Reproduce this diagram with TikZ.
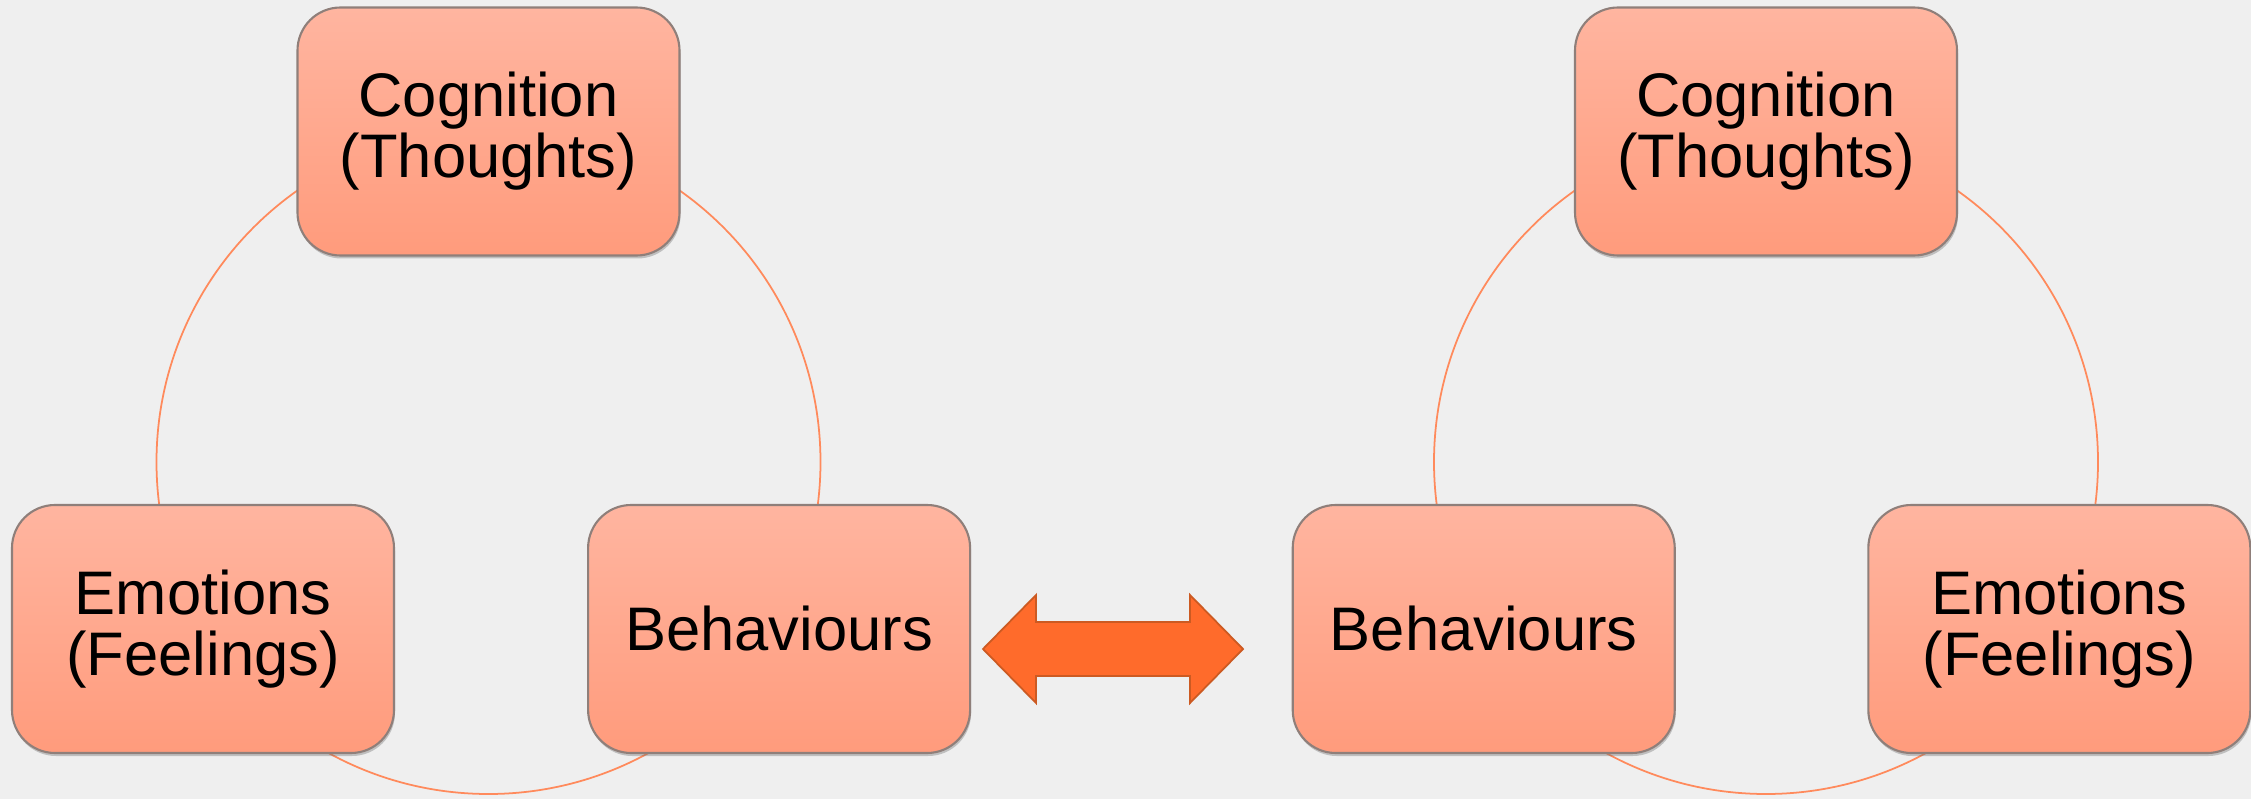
\documentclass[tikz,border=0pt]{standalone}
\usepackage{fontspec}
\setmainfont{Liberation Sans}
\usetikzlibrary{positioning, calc, shadows}

\definecolor{bg_grey}{HTML}{EFEFEF}
\definecolor{box_top}{HTML}{FFB5A0}
\definecolor{box_bottom}{HTML}{FF9B7C}
\definecolor{box_edge}{HTML}{8F7F7A}
\definecolor{cycle_col}{HTML}{FF8A5C}
\definecolor{arrow_col}{HTML}{FF6B2B}
\definecolor{arrow_edge}{HTML}{CC5A22}

\begin{document}
\begin{tikzpicture}[
    box_node/.style={rectangle, rounded corners=0.43cm, draw=box_edge, line width=0.6pt,
      top color=box_top, bottom color=box_bottom, minimum width=3.82cm, minimum height=2.48cm,
      align=center, font=\fontsize{17.5}{17.3}\selectfont,
      drop shadow={shadow xshift=0.01cm, shadow yshift=-0.03cm, opacity=0.35, fill=black!60}},
    cycle_line/.style={draw=cycle_col, line width=0.5pt},
    arrow_fill/.style={fill=arrow_col, draw=arrow_edge, line width=0.5pt, line join=miter},
    node distance=1.92cm
  ]
    \fill[bg_grey] (0,0) rectangle (22.51,7.99);
    \useasboundingbox (0,0) rectangle (22.51,7.99);

    % cycles behind the boxes
    \coordinate (ringL) at (4.885,3.37);
    \coordinate (ringR) at (17.66,3.37);
    \draw[cycle_line] (ringL) circle (3.32);
    \draw[cycle_line] (ringR) circle (3.32);

    % left cycle
    \node[box_node] (CogL) at (4.885,6.675) {Cognition\\(Thoughts)};
    \node[box_node] (EmoL) at (2.03,1.70) {Emotions\\(Feelings)};
    \node[box_node, right=of EmoL] (BehL) {Behaviours};

    % right cycle
    \node[box_node, right=3.205cm of BehL] (BehR) {Behaviours};
    \node[box_node, right=1.915cm of BehR] (EmoR) {Emotions\\(Feelings)};
    \node[box_node] (CogR) at (17.66,6.675) {Cognition\\(Thoughts)};

    % double arrow
    \coordinate (swap) at (11.13,1.50);
    \draw[arrow_fill] ($(swap)+(-1.30,0)$) -- ++(0.53,0.54) -- ++(0,-0.27) -- ++(1.54,0)
      -- ++(0,0.27) -- ++(0.53,-0.54) -- ++(-0.53,-0.54) -- ++(0,0.27) -- ++(-1.54,0)
      -- ++(0,-0.27) -- cycle;
  \end{tikzpicture}
\end{document}
